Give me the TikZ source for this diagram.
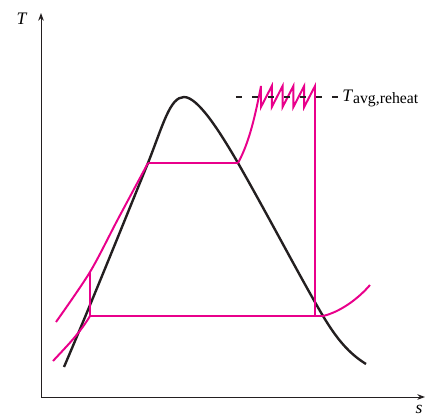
\documentclass[tikz,border=0pt]{standalone}
\usepackage{fontspec}
\setmainfont{Liberation Serif}
\usetikzlibrary{arrows.meta}
\definecolor{cyclepink}{RGB}{233,0,139}
\definecolor{domeblack}{RGB}{35,31,32}

\begin{document}
\begin{tikzpicture}[x=0.025cm, y=0.025cm, font=\fontsize{12.5}{14}\selectfont,
    axis/.style={line width=0.7pt, domeblack},
    dome/.style={line width=1.7pt, domeblack},
    cycleline/.style={line width=1.4pt, cyclepink},
    avgline/.style={line width=0.8pt, domeblack, dash pattern=on 4pt off 7.4pt}]
  \useasboundingbox (0,0) rectangle (430,417);

  % axes
  \coordinate (origin) at (41,20);
  \coordinate (tmax) at (41,404);
  \coordinate (smax) at (425,20);
  \draw[axis, {Stealth[length=5.5pt,width=4pt]}-{Stealth[length=5.5pt,width=4pt]}] (tmax) -- (origin) -- (smax);
  \node (tlabel) at (22,398) {\textit{T}};
  \node (slabel) at (419,8) {\textit{s}};

  % saturation dome
  \coordinate (crit) at (184,320);
  \draw[dome] (64,50) .. controls (96,125) and (130,210) .. (148,254)
    .. controls (163,292) and (170,320) .. (crit)
    .. controls (198,320) and (220,285) .. (238,254)
    .. controls (270,198) and (300,140) .. (323,101)
    .. controls (338,76) and (350,63) .. (366,53);

  % cycle states
  \coordinate (liqlow) at (90,101);
  \coordinate (pumpout) at (90,145);
  \coordinate (liqhigh) at (148,254);
  \coordinate (vaphigh) at (238,254);
  \coordinate (turbout) at (315,101);
  \coordinate (vaplow) at (323,101);

  % constant pressure lines
  \draw[cycleline] (53,56) .. controls (66,70) and (80,84) .. (liqlow);
  \draw[cycleline] plot[smooth] coordinates {(56,95) (90,145) (118,198) (148,254)};
  \draw[cycleline] (vaplow) .. controls (340,105) and (358,118) .. (370,132);

  % the cycle with many reheat stages
  \draw[cycleline] (liqlow) -- (pumpout);
  \draw[cycleline] (liqhigh) -- (vaphigh);
  \draw[cycleline] (vaphigh) .. controls (249,274) and (255,300) .. (261,331)
    \foreach \x in {271.8,282.6,293.4,304.2,315} { -- ++(0,-21) -- (\x,331) }
    -- (turbout);
  \draw[cycleline] (liqlow) -- (vaplow);

  % average reheat temperature
  \coordinate (dashstart) at (236,320);
  \node[anchor=base west, inner sep=0pt] (tavg) at (342,316)
    {\textit{T}\raisebox{-0.35ex}{\fontsize{11.2}{13}\selectfont avg,reheat}};
  \draw[avgline] (dashstart) -- ([xshift=-3pt]tavg.west |- dashstart);
\end{tikzpicture}
\end{document}
